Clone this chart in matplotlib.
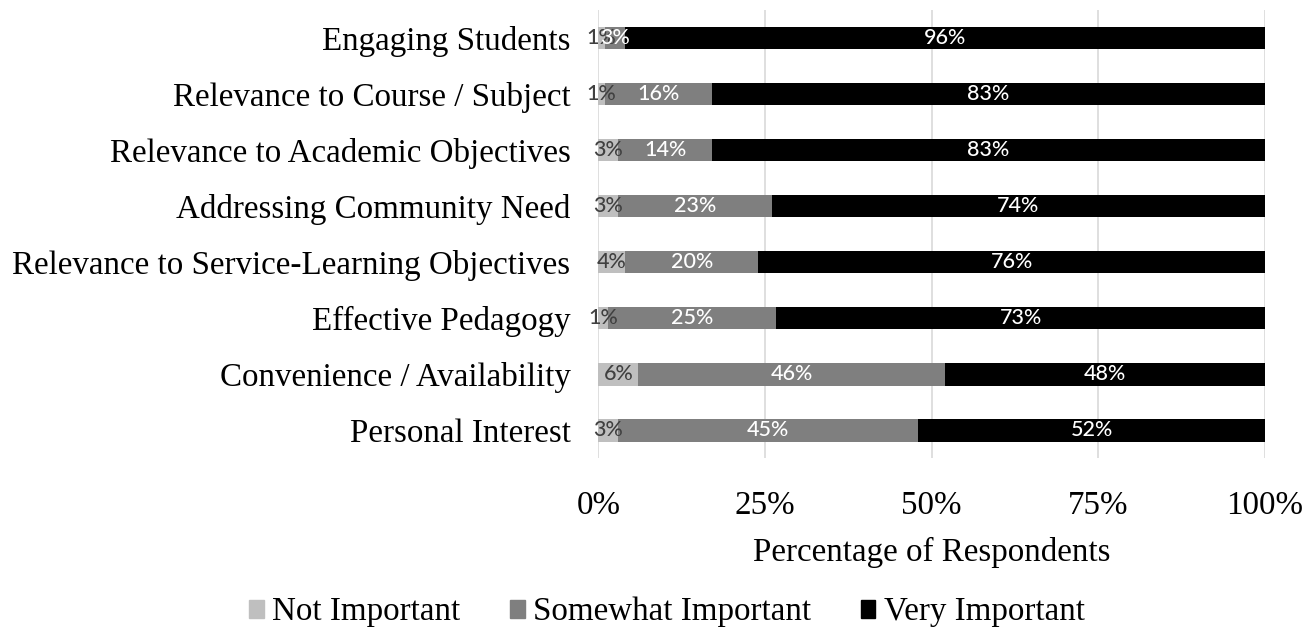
import numpy as np
import matplotlib.pyplot as plt
from matplotlib.patches import Patch

categories = ["Engaging Students", "Relevance to Course / Subject",
              "Relevance to Academic Objectives", "Addressing Community Need",
              "Relevance to Service-Learning Objectives", "Effective Pedagogy",
              "Convenience / Availability", "Personal Interest"]
not_important = [1, 1, 3, 3, 4, 1.4, 6, 3]
somewhat_important = [3, 16, 14, 23, 20, 25.3, 46, 45]
very_important = [96, 83, 83, 74, 76, 73.3, 48, 52]
series_names = ["Not Important", "Somewhat Important", "Very Important"]
colors = ["#bfbfbf", "#7f7f7f", "#000000"]
label_colors = ["#404040", "white", "white"]

serif = "Liberation Serif"
sans = "Lato"

fig = plt.figure(figsize=(13.15, 6.41), dpi=100)
ax = fig.add_axes([0.455, 0.285, 0.507, 0.699])

y = np.arange(len(categories))
left = np.zeros(len(categories))
for vals, name, col, lcol in zip([not_important, somewhat_important, very_important],
                                 series_names, colors, label_colors):
    vals = np.array(vals, dtype=float)
    ax.barh(y, vals, left=left, height=0.4, color=col, label=name, zorder=3)
    for yi, (l, v) in enumerate(zip(left, vals)):
        ax.text(l + v / 2, yi, f"{v:.0f}%", ha="center", va="center",
                color=lcol, fontsize=15.5, family=sans, fontweight="medium", zorder=4)
    left += vals

ax.set_ylim(len(categories) - 0.5, -0.5)
ax.set_xlim(0, 100)
ax.set_yticks(y)
ax.set_yticklabels(categories, family=serif, fontsize=23.8)
ax.set_xticks([0, 25, 50, 75, 100])
ax.set_xticklabels(["0%", "25%", "50%", "75%", "100%"], family=serif, fontsize=23.8)
ax.tick_params(length=0)
ax.tick_params(axis="x", pad=23)
ax.tick_params(axis="y", pad=20)
ax.grid(axis="x", color="#d9d9d9", linewidth=1.2, zorder=0)
for s in ax.spines.values():
    s.set_visible(False)
ax.set_xlabel("Percentage of Respondents", family=serif, fontsize=23.8, labelpad=12)

handles = [Patch(color=c) for c in colors]
fig.legend(handles, series_names, loc="center", bbox_to_anchor=(0.507, 0.045), ncol=3,
           frameon=False, prop={"family": serif, "size": 23.8},
           handlelength=0.45, handleheight=0.45, handletextpad=0.25, columnspacing=1.5)

fig.savefig("out.png", dpi=100)
